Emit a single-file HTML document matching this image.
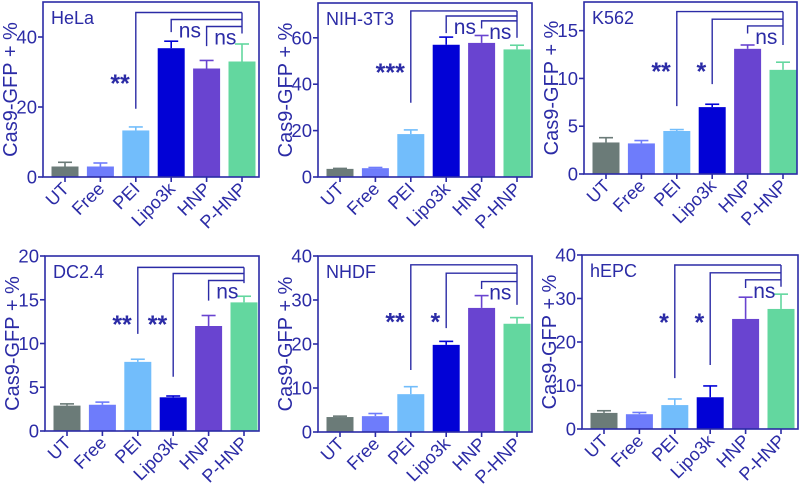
<!DOCTYPE html>
<html><head><meta charset="utf-8"><style>
html,body{margin:0;padding:0;background:#fff;}
svg{display:block;font-family:"Liberation Sans",Arial,sans-serif;}
</style></head><body>
<svg id="fig" width="802" height="487" viewBox="0 0 802 487" xmlns="http://www.w3.org/2000/svg"></svg>
<script>
const categories = ["UT","Free","PEI","Lipo3k","HNP","P-HNP"];
const colors = ["#6b7b78","#6e7cfb","#72bdfb","#0202d6","#6944d0","#63d79f"];
const panelTitles = ["HeLa","NIH-3T3","K562","DC2.4","NHDF","hEPC"];
const helaValues = [3,3,13.3,36.8,31,33];
const helaErr = [4.2,4,14.3,38.8,33.3,38];
const nihValues = [3.5,3.8,18.5,57,57.8,55];
const nihErr = [3.7,4.1,20.3,60.3,61,56.8];
const k562Values = [3.3,3.2,4.5,7,13.1,10.9];
const k562Err = [3.8,3.5,4.65,7.3,13.5,11.7];
const dcValues = [2.9,3,7.9,3.85,12,14.7];
const dcErr = [3.1,3.3,8.2,4,13.2,15.4];
const nhdfValues = [3.4,3.6,8.6,19.8,28.2,24.6];
const nhdfErr = [3.6,4.2,10.3,20.6,31,26];
const hepcValues = [3.7,3.4,5.5,7.3,25.3,27.6];
const hepcErr = [4.2,3.8,6.9,9.9,30.3,31];
const yMaxes = [50,75,18,20,40,40];
const yTicks = [[0,20,40],[0,20,40,60],[0,5,10,15],[0,5,10,15,20],[0,10,20,30,40],[0,10,20,30,40]];
// brackets: [fromIndex, level, dropTo, label, labelValue]
const helaBr = [[2,47,19.5,"**",28],[3,45,41.4,"ns",null],[4,43,37.4,"ns",null]];
const nihBr = [[2,71.6,32,"***",47],[3,69.4,62,"ns",null],[4,67.3,64,"ns",null]];
const k562Br = [[2,17,7.1,"**",11.2],[3,16.2,9.4,"*",11.2],[4,15.5,14.7,"ns",null]];
const dcBr = [[2,18.7,11.1,"**",12.7],[3,18,6.2,"**",12.7],[4,17.2,14.9,"ns",null]];
const nhdfBr = [[2,38,14.1,"**",26],[3,36.1,23.6,"*",26],[4,34.2,32.5,"ns",null]];
const hepcBr = [[2,37.7,11.7,"*",25.5],[3,35.9,14.7,"*",25.5],[4,34.3,32.4,"ns",null]];
const rightDrops = [41,60,13.5,16.9,28.9,32.7];

const seriesValues=[helaValues,nihValues,k562Values,dcValues,nhdfValues,hepcValues];
const seriesErr=[helaErr,nihErr,k562Err,dcErr,nhdfErr,hepcErr];
const brackets=[helaBr,nihBr,k562Br,dcBr,nhdfBr,hepcBr];
const frames=[[43,259,177],[318,532,177],[584,797,174],[45,259,431],[318,532,432],[582,798,429]];
const frameTops=[2,3,2,256,256,255];
const INK="#2b2ba6";
const NS="http://www.w3.org/2000/svg";
const svg=document.getElementById('fig');
function mk(tag,attrs,parent,text){const e=document.createElementNS(NS,tag);for(const k in attrs)e.setAttribute(k,attrs[k]);if(text!=null)e.textContent=text;(parent||svg).appendChild(e);return e;}

for(let p=0;p<6;p++){
  const [L,R,B]=frames[p];const T=frameTops[p];const max=yMaxes[p];
  const y=v=>B-(v/max)*(B-T);
  const x=i=>L+22+i*35.4;
  const g=mk('g',{});
  
  
  for(let i=0;i<6;i++){
    const v=seriesValues[p][i],e=seriesErr[p][i];
    const ln=mk('line',{x1:x(i),x2:x(i),y1:y(v),y2:y(e),stroke:colors[i],'stroke-width':1.6},g);
    
    
    const cap=mk('line',{x1:x(i)-7,x2:x(i)+7,y1:y(e),y2:y(e),stroke:colors[i],'stroke-width':1.6},g);
    
    
    const r=mk('rect',{x:x(i)-13.5,y:y(v),width:27,height:B-y(v),fill:colors[i]},g);
    
    
  }
  const fr=mk('rect',{x:L,y:T,width:R-L,height:B-T,fill:'none',stroke:INK,'stroke-width':1.6},g);
  
  
  for(const t of yTicks[p]){
    mk('line',{x1:L-5,x2:L,y1:y(t),y2:y(t),stroke:INK,'stroke-width':1.6},g);
    const tl=mk('text',{x:L-6,y:y(t)+6.5,'text-anchor':'end','font-size':18.5,fill:INK},g,String(t));
    
    
  }
  for(let i=0;i<6;i++){
    mk('line',{x1:x(i),x2:x(i),y1:B,y2:B+5,stroke:INK,'stroke-width':1.6},g);
    const xl=mk('text',{transform:`translate(${x(i)+5},${B+13}) rotate(-45)`,'text-anchor':'end','font-size':18,fill:INK},g,categories[i]);
    
    
  }
  const yt=mk('text',{transform:`translate(${L-26},${(T+B)/2}) rotate(-90)`,'text-anchor':'middle','font-size':20,fill:INK},g,'Cas9-GFP + %');
  
  
  const pt=mk('text',{x:L+8,y:T+22,'font-size':18,fill:INK},g,panelTitles[p]);
  
  
  const xr=x(5);
  let topLevel=brackets[p][0][1];
  mk('line',{x1:xr,x2:xr,y1:y(topLevel),y2:y(rightDrops[p]),stroke:INK,'stroke-width':1.4},g);
  for(const br of brackets[p]){
    const [fi,lev,drop,lab,lv]=br;
    const path=mk('path',{d:`M${x(fi)} ${y(drop)} V${y(lev)} H${xr}`,fill:'none',stroke:INK,'stroke-width':1.4},g);
    
    
    let lt;
    if(lab==='ns'){
      lt=mk('text',{x:(x(fi)+x(fi+1))/2+1,y:y(lev)+18,'text-anchor':'middle','font-size':21,fill:INK},g,lab);
    } else {
      lt=mk('text',{x:x(fi)-6,y:y(lv)+13,'text-anchor':'end','font-size':25,'font-weight':'bold',fill:INK},g,lab);
    }
    
    
  }
}
</script>
</body></html>
